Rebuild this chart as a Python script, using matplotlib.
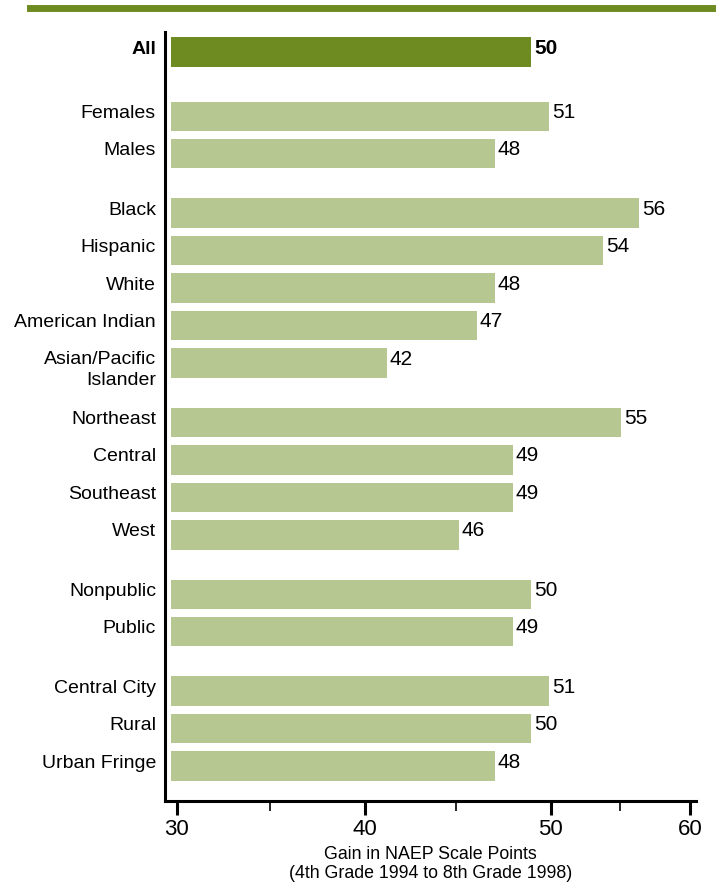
import matplotlib
matplotlib.use("Agg")
import matplotlib.pyplot as plt
from matplotlib.lines import Line2D

plt.rcParams['font.family'] = ['Liberation Sans', 'DejaVu Sans']

# groups of categories, top to bottom
groups = [
    ["All"],
    ["Females", "Males"],
    ["Black", "Hispanic", "White", "American Indian", "Asian/Pacific\nIslander"],
    ["Northeast", "Central", "Southeast", "West"],
    ["Nonpublic", "Public"],
    ["Central City", "Rural", "Urban Fringe"],
]
gains = [
    [50],
    [51, 48],
    [56, 54, 48, 47, 42],
    [55, 49, 49, 46],
    [50, 49],
    [51, 50, 48],
]
tick_labels = ["30", "40", "50", "60"]

dark_green = "#6e8b22"
light_green = "#b6c792"

fig = plt.figure(figsize=(7.17, 8.86), dpi=100)
ax = fig.add_axes([165 / 717, 85 / 886, 531 / 717, 769 / 886])

base = 30
pos = 0.0
for gi, (names, vals) in enumerate(zip(groups, gains)):
    if gi == 1:
        pos += 0.71
    elif gi > 1:
        pos += 0.58
    for name, v in zip(names, vals):
        is_all = name == "All"
        ax.barh(pos, v - base, left=base, height=0.78,
                color=dark_green if is_all else light_green)
        weight = "bold" if is_all else "normal"
        ax.annotate(f"{v}", xy=(v, pos), xytext=(3, 4), textcoords="offset pixels",
                    ha="left", va="center", fontsize=15, fontweight=weight)
        if "\n" in name:
            ax.annotate(name, xy=(0, pos), xycoords=("axes fraction", "data"),
                        xytext=(-9, 12), textcoords="offset pixels",
                        ha="right", va="top", fontsize=14, linespacing=1.3)
        else:
            ax.annotate(name, xy=(0, pos), xycoords=("axes fraction", "data"),
                        xytext=(-9, 3), textcoords="offset pixels",
                        ha="right", va="center", fontsize=14, fontweight=weight)
        pos += 1
pos -= 1

ax.set_xlim(29.667, 59.167)
ax.set_ylim(pos + 0.93, -0.534)

for s in ["top", "right"]:
    ax.spines[s].set_visible(False)
ax.spines["left"].set_linewidth(2.2)
ax.spines["bottom"].set_linewidth(2.2)

ax.set_yticks([])
ax.set_xticks([30.33, 40.76, 51.09, 58.82])
ax.set_xticklabels(tick_labels, fontsize=16)
ax.set_xticks([35.5, 45.83, 54.94], minor=True)
ax.tick_params(axis="x", which="major", length=10, width=2.2, pad=3)
ax.tick_params(axis="x", which="minor", length=7, width=1.2)

ax.text(0.5, -0.058, "Gain in NAEP Scale Points\n(4th Grade 1994 to 8th Grade 1998)",
        transform=ax.transAxes, ha="center", va="top", fontsize=12.8, linespacing=1.2)

# green rule across the top
fig.add_artist(Line2D([30 / 717, 712 / 717], [1 - 8 / 886, 1 - 8 / 886],
                      transform=fig.transFigure, color=dark_green, linewidth=5))

fig.savefig("out.png", dpi=100)
